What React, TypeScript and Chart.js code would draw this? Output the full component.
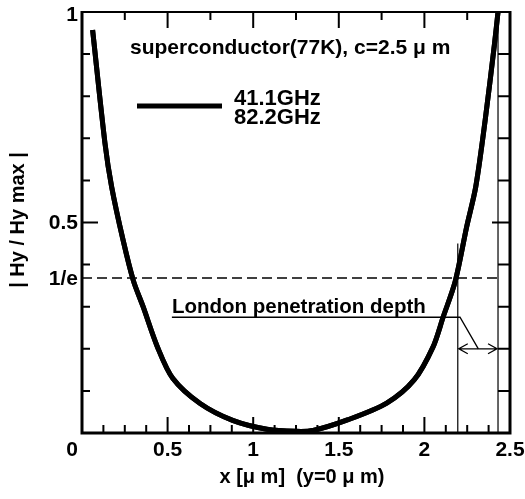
import { useEffect, useRef } from "react";
import { Chart, registerables } from "chart.js";

Chart.register(...registerables);

// Field profile across the strip (x in µm) and |Hy/Hy max|
const xPositions = [0.062, 0.134, 0.173, 0.24, 0.3, 0.357, 0.44, 0.53, 0.69, 0.88, 1.08, 1.25, 1.35, 1.55, 1.78, 1.94, 2.05, 2.11, 2.18, 2.247, 2.3, 2.355, 2.41, 2.43];
const hyRatio41GHz = [0.957, 0.689, 0.585, 0.458, 0.362, 0.3, 0.205, 0.13, 0.07, 0.03, 0.009, 0.004, 0.006, 0.031, 0.071, 0.126, 0.204, 0.276, 0.36, 0.49, 0.585, 0.743, 0.926, 1.0];
const hyRatio82GHz = [0.957, 0.689, 0.585, 0.458, 0.362, 0.3, 0.205, 0.13, 0.07, 0.03, 0.009, 0.004, 0.006, 0.031, 0.071, 0.126, 0.204, 0.276, 0.36, 0.49, 0.585, 0.743, 0.926, 1.0];

const seriesLabels = ["41.1GHz", "82.2GHz"];

const xTickValues = [0.5, 1, 1.5, 2, 2.5];
const xTickLabels = ["0.5", "1", "1.5", "2", "2.5"];
const yTickValues = [1, 0.5, 1 / Math.E];
const yTickLabels = ["1", "0.5", "1/e"];
const originLabel = "0";

const chartTitle = "superconductor(77K), c=2.5 \u03bc m";
const xAxisTitle = "x [\u03bc m]  (y=0 \u03bc m)";
const yAxisTitle = "| Hy / Hy max |";
const londonLabel = "London penetration depth";

// Reference marks, in data units
const oneOverE = 1 / Math.E;
const londonDepthX = 2.195;
const surfaceX = 2.43;
const leaderY = 0.275;
const arrowY = 0.2;
const leaderBendX = 2.208;
const leaderEndX = 2.315;
const londonTextX = 0.525;

const FONT = "'Liberation Sans', Arial, Helvetica, sans-serif";

const decorations = {
  id: "decorations",
  beforeDatasetsDraw(chart: any) {
    const { ctx } = chart;
    const xs = chart.scales.x;
    const ys = chart.scales.y;
    const px = (v: number) => xs.getPixelForValue(v);
    const py = (v: number) => ys.getPixelForValue(v);
    const L = px(0), R = px(2.5), T = py(1), B = py(0);

    ctx.save();
    ctx.strokeStyle = "#000";
    ctx.lineCap = "butt";

    // 1/e reference level
    ctx.lineWidth = 1.5;
    ctx.setLineDash([10, 5]);
    ctx.beginPath();
    ctx.moveTo(L, py(oneOverE));
    ctx.lineTo(px(surfaceX) + 3, py(oneOverE));
    ctx.stroke();
    ctx.setLineDash([]);

    // vertical markers
    ctx.lineWidth = 1.2;
    ctx.beginPath();
    ctx.moveTo(px(londonDepthX), py(0.45));
    ctx.lineTo(px(londonDepthX), B);
    ctx.moveTo(px(surfaceX), T);
    ctx.lineTo(px(surfaceX), B);
    ctx.stroke();

    // leader line and double arrow
    ctx.lineWidth = 1.3;
    ctx.beginPath();
    ctx.moveTo(px(londonTextX), py(leaderY));
    ctx.lineTo(px(leaderBendX), py(leaderY));
    ctx.lineTo(px(leaderEndX), py(arrowY));
    ctx.stroke();
    const ax1 = px(londonDepthX) + 1, ax2 = px(surfaceX) - 1, ay = py(arrowY);
    ctx.beginPath();
    ctx.moveTo(ax1, ay);
    ctx.lineTo(ax2, ay);
    ctx.moveTo(ax1 + 9, ay - 5);
    ctx.lineTo(ax1, ay);
    ctx.lineTo(ax1 + 9, ay + 5);
    ctx.moveTo(ax2 - 9, ay - 5);
    ctx.lineTo(ax2, ay);
    ctx.lineTo(ax2 - 9, ay + 5);
    ctx.stroke();

    // frame
    ctx.lineWidth = 3;
    ctx.beginPath();
    ctx.moveTo(L, T - 1);
    ctx.lineTo(L, B);
    ctx.lineTo(R, B);
    ctx.lineTo(R, T - 1);
    ctx.stroke();
    ctx.lineWidth = 2;
    ctx.beginPath();
    ctx.moveTo(L, T);
    ctx.lineTo(R, T);
    ctx.stroke();

    // inward ticks
    ctx.lineWidth = 2;
    ctx.beginPath();
    for (let i = 1; i < 10; i++) {
      const v = i / 10;
      const y = py(v);
      const major = i === 5;
      ctx.moveTo(L, y);
      ctx.lineTo(L + (major ? 16 : 8), y);
      ctx.moveTo(R, y);
      ctx.lineTo(R - (major ? 18 : 12), y);
    }
    for (let i = 1; i < 20; i++) {
      const v = i * 0.125;
      const x = px(v);
      const major = i % 4 === 0;
      ctx.moveTo(x, B);
      ctx.lineTo(x, B - (major ? 16 : 8));
    }
    for (let i = 1; i < 10; i++) {
      const v = i * 0.25;
      const x = px(v);
      const major = i % 2 === 0;
      ctx.moveTo(x, T);
      ctx.lineTo(x, T + (major ? 16 : 8));
    }
    ctx.stroke();
    ctx.restore();
  },
  afterDraw(chart: any) {
    const { ctx } = chart;
    const xs = chart.scales.x;
    const ys = chart.scales.y;
    const px = (v: number) => xs.getPixelForValue(v);
    const py = (v: number) => ys.getPixelForValue(v);
    const L = px(0), B = py(0);

    ctx.save();
    ctx.fillStyle = "#000";

    // tick labels
    ctx.font = `bold 21px ${FONT}`;
    ctx.textBaseline = "middle";
    ctx.textAlign = "center";
    xTickValues.forEach((v, i) => ctx.fillText(xTickLabels[i], px(v), B + 17));
    ctx.textAlign = "right";
    yTickValues.forEach((v, i) => ctx.fillText(yTickLabels[i], L - 4, Math.max(py(v) + 1, 15)));
    ctx.fillText(originLabel, L - 4, B + 17);

    // axis titles
    ctx.font = `bold 20px ${FONT}`;
    ctx.textAlign = "center";
    ctx.fillText(xAxisTitle, 302, B + 44);
    ctx.save();
    ctx.translate(18, 220);
    ctx.rotate(-Math.PI / 2);
    ctx.fillText(yAxisTitle, 0, 0);
    ctx.restore();

    // annotation text
    ctx.textAlign = "left";
    ctx.textBaseline = "alphabetic";
    ctx.font = `bold 21px ${FONT}`;
    ctx.fillText(chartTitle, 130, 54);

    // legend
    ctx.lineWidth = 5;
    ctx.strokeStyle = "#000";
    ctx.beginPath();
    ctx.moveTo(137, 106);
    ctx.lineTo(222, 106);
    ctx.stroke();
    ctx.font = `bold 22px ${FONT}`;
    ctx.fillText(seriesLabels[0], 234, 105);
    ctx.fillText(seriesLabels[1], 234, 124);

    ctx.font = `bold 20.5px ${FONT}`;
    ctx.fillText(londonLabel, px(londonTextX), py(leaderY) - 4);
    ctx.restore();
  },
};

export default function App() {
  const canvasRef = useRef<HTMLCanvasElement | null>(null);

  useEffect(() => {
    const canvas = canvasRef.current;
    if (!canvas) return;
    const toPoints = (ys: number[]) => xPositions.map((x, i) => ({ x, y: ys[i] }));
    const lineStyle = {
      borderColor: "#000",
      borderWidth: 5,
      pointRadius: 0,
      tension: 0.3,
      clip: false as const,
    };
    const chart = new Chart(canvas, {
      type: "line",
      data: {
        datasets: [
          { label: seriesLabels[0], data: toPoints(hyRatio41GHz), ...lineStyle },
          { label: seriesLabels[1], data: toPoints(hyRatio82GHz), ...lineStyle },
        ],
      },
      options: {
        responsive: false,
        animation: false,
        devicePixelRatio: 1,
        layout: { padding: { left: 82, right: 15, top: 12, bottom: 66 } },
        scales: {
          x: { type: "linear", min: 0, max: 2.5, display: false },
          y: { type: "linear", min: 0, max: 1, display: false },
        },
        plugins: {
          legend: { display: false },
          tooltip: { enabled: false },
        },
      },
      plugins: [decorations],
    });
    return () => chart.destroy();
  }, []);

  return (
    <div style={{ position: "fixed", left: 0, top: 0, width: 525, height: 499, background: "#fff" }}>
      <canvas ref={canvasRef} width={525} height={499} style={{ display: "block" }} />
    </div>
  );
}
